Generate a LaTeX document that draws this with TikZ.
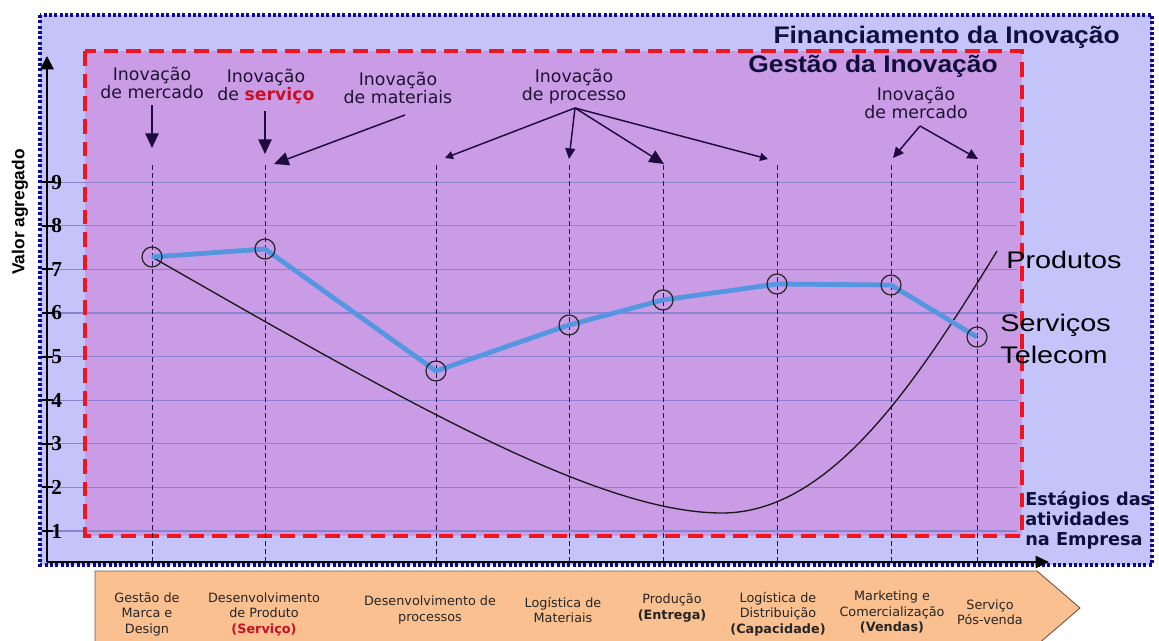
\documentclass[tikz,border=0pt]{standalone}
\usepackage{fontspec}
\setmainfont{DejaVu Sans}
\newfontfamily\arialfont{Liberation Sans}
\newfontfamily\numfont{Liberation Serif}
\usetikzlibrary{arrows.meta}

\definecolor{panelblue}{RGB}{196,196,250}
\definecolor{panelviolet}{RGB}{202,156,230}
\definecolor{frameblue}{RGB}{10,10,150}
\definecolor{framered}{RGB}{240,20,30}
\definecolor{gridc}{RGB}{140,130,210}
\definecolor{datablue}{RGB}{85,150,225}
\definecolor{stagefill}{RGB}{250,192,144}
\definecolor{stageedge}{RGB}{120,90,70}
\definecolor{titleink}{RGB}{15,15,60}
\definecolor{labelink}{RGB}{30,20,50}
\definecolor{arrowink}{RGB}{30,10,60}
\definecolor{stagedash}{RGB}{40,20,80}
\definecolor{accentred}{RGB}{200,16,40}

\begin{document}
\begin{tikzpicture}[x=0.75pt,y=-0.75pt,
  toplbl/.style={anchor=north, align=center, inner sep=0pt, text=labelink,
    font=\fontsize{13pt}{13.5pt}\selectfont},
  stagelbl/.style={align=center, inner sep=0pt, text=black!85,
    font=\fontsize{9.6pt}{11.6pt}\selectfont},
  annbig/.style={draw=arrowink, line width=1.1pt, -{Triangle[length=11pt,width=10pt]}},
  annmid/.style={draw=arrowink, line width=1.1pt, -{Triangle[length=8pt,width=7.5pt]}},
  annsmall/.style={draw=arrowink, line width=1.1pt, -{Triangle[length=6pt,width=6pt]}},
  datamark/.style={circle, draw=black!85, line width=0.9pt, minimum size=15pt, inner sep=0pt},
  stagedashline/.style={draw=stagedash, dash pattern=on 3.5pt off 2.5pt, line width=0.7pt},
  gridline/.style={draw=gridc, line width=0.8pt},
  axisline/.style={draw=black, line width=1.5pt},
  ticklbl/.style={anchor=west, inner sep=0pt, font=\numfont\bfseries\fontsize{16pt}{17pt}\selectfont},
  titletext/.style={inner sep=0pt, xscale=1.1, text=titleink,
    font=\arialfont\bfseries\fontsize{18pt}{20pt}\selectfont},
  seriestext/.style={inner sep=0pt, xscale=1.2, text=black,
    font=\arialfont\fontsize{18pt}{24pt}\selectfont}
]
\useasboundingbox (0,0) rectangle (1159,641);
\clip (0,0) rectangle (1159,641);
\fill[white] (0,0) rectangle (1159,641);

% financing panel and management panel
\fill[panelblue] (40,15) rectangle (1152,565);
\fill[panelviolet] (85,51) rectangle (1022,536);

% value grid
\foreach \v in {1,...,9} {
  \pgfmathsetmacro\yy{531-(\v-1)*43.6}
  \draw[gridline] (47,\yy) -- (1017,\yy);
}

% frames
\draw[framered, line width=3pt, dash pattern=on 11pt off 6pt] (85,51) rectangle (1022,536);
\draw[frameblue, line width=2.8pt, dash pattern=on 2.2pt off 1.8pt] (40,15) rectangle (1152,565);

% stage guide lines
\foreach \x [count=\i] in {152,265,436,569,663,777,891,977} {
  \coordinate (st\i) at (\x,165);
  \coordinate (sb\i) at (\x,562);
  \draw[stagedashline] (st\i) -- (sb\i);
}

% axes
\coordinate (origin) at (47,562);
\coordinate (ytop) at (47,56);
\coordinate (xend) at (1049,562);
\draw[axisline, -{Triangle[length=10pt,width=10pt]}] (origin) -- (ytop);
\draw[axisline, -{Triangle[length=10pt,width=9pt]}] (origin) -- (xend);

% ticks and their values
\foreach \v in {1,...,9} {
  \pgfmathsetmacro\yy{531-(\v-1)*43.6}
  \coordinate (tk\v) at (42,\yy);
  \draw[line width=1.5pt] (tk\v) -- ++(11,0);
  \node[ticklbl] (tl\v) at (51,\yy) {\v};
}

\node[rotate=90, inner sep=0pt, font=\arialfont\bfseries\fontsize{13pt}{15pt}\selectfont]
  (yname) at (20,212) {Valor agregado};

% products curve
\coordinate (d1) at (152,257);
\coordinate (d2) at (265,249);
\coordinate (d3) at (436,371);
\coordinate (d4) at (569,325);
\coordinate (d5) at (663,300);
\coordinate (d6) at (777,284);
\coordinate (d7) at (891,285);
\coordinate (d8) at (977,337);
\coordinate (curvelow) at (722,513);
\coordinate (curveend) at (997,251);
\draw[black!90, line width=1pt]
  (d1) .. controls (410,405) and (600,513) .. (curvelow)
       .. controls (830,513) and (915,385) .. (curveend);

% telecom services line
\draw[datablue, line width=3.6pt, line join=round]
  (d1) -- (d2) -- (d3) -- (d4) -- (d5) -- (d6) -- (d7) -- (d8);
\foreach \i in {1,...,8} { \node[datamark] (p\i) at (d\i) {}; }

% innovation labels
\node[toplbl] (lmerc1) at (152,67) {Inovação\\de mercado};
\node[toplbl] (lserv) at (266,69) {Inovação\\de {\bfseries\color{accentred}serviço}};
\node[toplbl] (lmat) at (398,72) {Inovação\\de materiais};
\node[toplbl] (lproc) at (574,69) {Inovação\\de processo};
\node[toplbl] (lmerc2) at (916,87) {Inovação\\de mercado};

\coordinate (a1s) at (152,105); \coordinate (a1e) at (152,148);
\coordinate (a2s) at (265,111); \coordinate (a2e) at (265,154);
\coordinate (a3s) at (405,115); \coordinate (a3e) at (274,164);
\coordinate (a4s) at (575,108);
\coordinate (a4a) at (445,158); \coordinate (a4b) at (569,159);
\coordinate (a4c) at (664,164); \coordinate (a4d) at (768,159);
\coordinate (a5s) at (920,126);
\coordinate (a5a) at (893,158); \coordinate (a5b) at (978,159);

\draw[annbig] (a1s) -- (a1e);
\draw[annbig] (a2s) -- (a2e);
\draw[annbig] (a3s) -- (a3e);
\draw[annsmall] (a4s) -- (a4a);
\draw[annmid] (a4s) -- (a4b);
\draw[annbig] (a4s) -- (a4c);
\draw[annsmall] (a4s) -- (a4d);
\draw[annmid] (a5s) -- (a5a);
\draw[annmid] (a5s) -- (a5b);

% titles
\node[titletext, anchor=base east] (fin) at (1120,44) {Financiamento da Inovação};
\node[titletext, anchor=base east] (gest) at (998,73) {Gestão da Inovação};

% series names
\node[seriestext, anchor=base west] (prod) at (1006,269) {Produtos};
\node[seriestext, anchor=north west, align=left] (serv) at (1000,314) {Serviços\\Telecom};

% horizontal axis name
\node[anchor=north west, align=left, inner sep=0pt, text=titleink,
  font=\bfseries\fontsize{13.3pt}{15pt}\selectfont] (stages) at (1025,491)
  {Estágios das\\atividades\\na Empresa};

% value chain arrow
\draw[fill=stagefill, draw=stageedge, line width=0.7pt]
  (95,571) -- (1037,571) -- (1080,608) -- (1037,645) -- (95,645) -- cycle;

\node[stagelbl] (c1) at (147,614) {Gestão de\\Marca e\\Design};
\node[stagelbl] (c2) at (264,614) {Desenvolvimento\\de Produto\\{\bfseries\color{accentred}(Serviço)}};
\node[stagelbl] (c3) at (430,610) {Desenvolvimento de\\processos};
\node[stagelbl] (c4) at (563,610) {Logística de\\Materiais};
\node[stagelbl] (c5) at (672,608) {Produção\\\textbf{(Entrega)}};
\node[stagelbl] (c6) at (778,614) {Logística de\\Distribuição\\\textbf{(Capacidade)}};
\node[stagelbl] (c7) at (892,612) {Marketing e\\Comercialização\\\textbf{(Vendas)}};
\node[stagelbl] (c8) at (990,612) {Serviço\\Pós-venda};
\end{tikzpicture}
\end{document}
